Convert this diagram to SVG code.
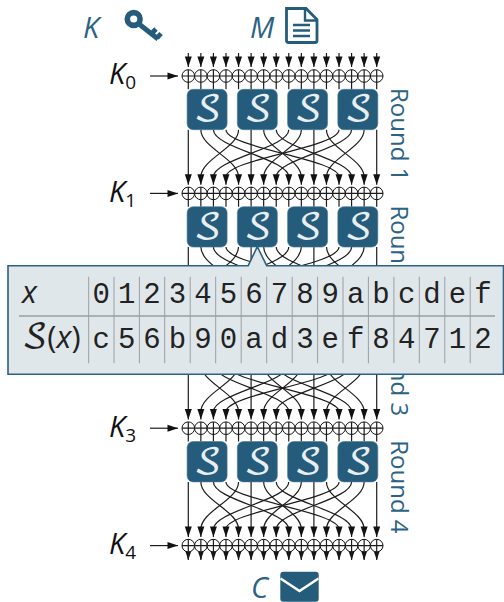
<svg xmlns="http://www.w3.org/2000/svg" width="504" height="602" viewBox="0 0 504 602">
<style>
.w{fill:none;stroke:#1c1c1c;stroke-width:1.2}
.a{marker-end:url(#ah)}
.x{fill:#fff;stroke:#111;stroke-width:1}
.box{fill:#255c7c;stroke:#4a7a96;stroke-width:.6}
.st{font-family:"DejaVu Math TeX Gyre","Liberation Serif",serif;font-size:36px;fill:#e8eef1;text-anchor:middle}
.lab{font-family:"Open Sans",sans-serif;font-style:italic;font-size:29px;fill:#2c6384}
.k{font-family:"Open Sans",sans-serif;font-style:italic;font-size:29px;fill:#111}
.sub{font-family:"Open Sans",sans-serif;font-style:normal;font-size:19px;fill:#111}
.rd{font-family:"Open Sans",sans-serif;font-size:24px;fill:#2c6384}
.d{font-family:"Liberation Mono",monospace;font-size:29px;fill:#222;text-anchor:middle}
.gv{stroke:#9a9ea2;stroke-width:1}
.m{font-family:"Open Sans",sans-serif;font-style:italic;font-size:31px;fill:#222}
</style>
<defs>
<marker id="ah" markerUnits="userSpaceOnUse" markerWidth="12" markerHeight="12" refX="3" refY="4" orient="auto" viewBox="-8 0 12 8"><path d="M-7.5,0.5L3,4L-7.5,7.5Z" fill="#111"/></marker>
<g id="perm" class="w">
<path class="a" d="M188.3,0V55"/>
<path class="a" d="M200.86,0C200.86,18 238.54,29.3 238.54,47.3V55"/>
<path class="a" d="M213.42,0C213.42,18 288.78,29.3 288.78,47.3V55"/>
<path class="a" d="M225.98,0C225.98,18 339.02,29.3 339.02,47.3V55"/>
<path class="a" d="M238.54,0C238.54,18 200.86,29.3 200.86,47.3V55"/>
<path class="a" d="M251.1,0V55"/>
<path class="a" d="M263.66,0C263.66,18 301.34,29.3 301.34,47.3V55"/>
<path class="a" d="M276.22,0C276.22,18 351.58,29.3 351.58,47.3V55"/>
<path class="a" d="M288.78,0C288.78,18 213.42,29.3 213.42,47.3V55"/>
<path class="a" d="M301.34,0C301.34,18 263.66,29.3 263.66,47.3V55"/>
<path class="a" d="M313.9,0V55"/>
<path class="a" d="M326.46,0C326.46,18 364.14,29.3 364.14,47.3V55"/>
<path class="a" d="M339.02,0C339.02,18 225.98,29.3 225.98,47.3V55"/>
<path class="a" d="M351.58,0C351.58,18 276.22,29.3 276.22,47.3V55"/>
<path class="a" d="M364.14,0C364.14,18 326.46,29.3 326.46,47.3V55"/>
<path class="a" d="M376.7,0V55"/>
</g>
<g id="arr" class="w">
<path class="a" d="M188.3,0V14"/><path class="a" d="M200.86,0V14"/><path class="a" d="M213.42,0V14"/><path class="a" d="M225.98,0V14"/><path class="a" d="M238.54,0V14"/><path class="a" d="M251.1,0V14"/><path class="a" d="M263.66,0V14"/><path class="a" d="M276.22,0V14"/><path class="a" d="M288.78,0V14"/><path class="a" d="M301.34,0V14"/><path class="a" d="M313.9,0V14"/><path class="a" d="M326.46,0V14"/><path class="a" d="M339.02,0V14"/><path class="a" d="M351.58,0V14"/><path class="a" d="M364.14,0V14"/><path class="a" d="M376.7,0V14"/>
</g>
<g id="xc"><circle class="x" cx="188.3" r="6.3"/><path class="w" d="M188.3,-6.3V13.3M182,0H194.6"/></g>
<g id="xor">
<use href="#xc"/><use href="#xc" x="12.56"/><use href="#xc" x="25.12"/><use href="#xc" x="37.68"/><use href="#xc" x="50.24"/><use href="#xc" x="62.8"/><use href="#xc" x="75.36"/><use href="#xc" x="87.92"/><use href="#xc" x="100.48"/><use href="#xc" x="113.04"/><use href="#xc" x="125.6"/><use href="#xc" x="138.16"/><use href="#xc" x="150.72"/><use href="#xc" x="163.28"/><use href="#xc" x="175.84"/><use href="#xc" x="188.4"/>
</g>
<g id="sb"><rect class="box" x="187.1" y="0" width="40" height="40.4" rx="6"/><text class="st" x="207.5" y="32">𝒮</text></g>
</defs>
<g id="connectors">
<use href="#arr" y="53"/>
<use href="#perm" y="129.7"/><use href="#perm" y="247.1"/><use href="#perm" y="364.5"/><use href="#perm" y="481.9"/>
<use href="#arr" y="546"/>
<path class="w a" d="M150,76H178"/><path class="w a" d="M150,193.4H178"/><path class="w a" d="M150,428.2H178"/><path class="w a" d="M150,545.6H178"/>
</g>
<g id="xor-rows"><use href="#xor" y="76"/><use href="#xor" y="193.4"/><use href="#xor" y="310.8"/><use href="#xor" y="428.2"/><use href="#xor" y="545.6"/></g>
<g id="sboxes">
<g id="s0"><use href="#sb" y="89.3"/><use href="#sb" x="50.24" y="89.3"/><use href="#sb" x="100.48" y="89.3"/><use href="#sb" x="150.72" y="89.3"/></g>
<g id="s1"><use href="#sb" y="206.7"/><use href="#sb" x="50.24" y="206.7"/><use href="#sb" x="100.48" y="206.7"/><use href="#sb" x="150.72" y="206.7"/></g>
<g id="s3"><use href="#sb" y="441.5"/><use href="#sb" x="50.24" y="441.5"/><use href="#sb" x="100.48" y="441.5"/><use href="#sb" x="150.72" y="441.5"/></g>
</g>
<g id="labels">
<text class="lab" x="83" y="38">K</text><text class="lab" x="250" y="38">M</text><text class="lab" x="251" y="598">C</text>
<text class="k" x="109" y="84">K<tspan class="sub" dy="5">0</tspan></text>
<text class="k" x="109" y="202">K<tspan class="sub" dy="5">1</tspan></text>
<text class="k" x="109" y="437">K<tspan class="sub" dy="5">3</tspan></text>
<text class="k" x="109" y="554">K<tspan class="sub" dy="5">4</tspan></text>
<text class="rd" transform="translate(391,88) rotate(90)">Round 1</text>
<text class="rd" transform="translate(391,205.4) rotate(90)">Round 2</text>
<text class="rd" transform="translate(391,322.8) rotate(90)">Round 3</text>
<text class="rd" transform="translate(391,440.2) rotate(90)">Round 4</text>
</g>
<g id="key-icon" fill="none" stroke="#255c7c"><circle cx="133.7" cy="19" r="6.4" stroke-width="5.6"/><path d="M139,24L158,39M151.5,33.5L156,29M157,38L161,33.5" stroke-width="4.8"/></g>
<g id="doc-icon"><path d="M286.5,8.5H306L317,19.5V40.5Q317,42.5 315,42.5H288.5Q286.5,42.5 286.5,40.5Z" fill="#fff" stroke="#255c7c" stroke-width="2.8"/><path d="M305,8.5V20.5H317" fill="none" stroke="#255c7c" stroke-width="2.4"/><path d="M293,25H310M293,30.5H310M293,36H310" stroke="#255c7c" stroke-width="2.6"/></g>
<g id="mail-icon"><rect x="280.3" y="571.7" width="38.4" height="30" rx="3" fill="#255c7c"/><path d="M280.5,578.5L299.5,591L318.5,578.5" fill="none" stroke="#fff" stroke-width="2.6"/></g>
<g id="sbox-popup">
<path d="M8,265.7H248.2L257.3,246.7L266.7,265.7H503.5V374.3H8Z" fill="#e0e7eb" stroke="#2a6283" stroke-width="1.6"/>
<path d="M19,316H495" stroke="#9a9ea2" stroke-width="1.4"/>
<path class="gv" d="M88.7,276.7V363.3M114,276.7V363.3M139.4,276.7V363.3M164.7,276.7V363.3M190.2,276.7V363.3M215.7,276.7V363.3M241.2,276.7V363.3M266.7,276.7V363.3M292.2,276.7V363.3M317.6,276.7V363.3M343,276.7V363.3M368.4,276.7V363.3M393.9,276.7V363.3M419.3,276.7V363.3M444.8,276.7V363.3M470.2,276.7V363.3"/>
<text class="m" x="22" y="303">x</text>
<text class="m" x="22" y="348"><tspan font-family="DejaVu Math TeX Gyre,Liberation Serif" font-style="normal" font-size="33">𝒮</tspan><tspan font-style="normal">(</tspan>x<tspan font-style="normal">)</tspan></text>
<g class="d">
<text x="101.3" y="303">0</text><text x="126.7" y="303">1</text><text x="152" y="303">2</text><text x="177.5" y="303">3</text><text x="203" y="303">4</text><text x="228.5" y="303">5</text><text x="254" y="303">6</text><text x="279.5" y="303">7</text><text x="305" y="303">8</text><text x="330.3" y="303">9</text><text x="355.7" y="303">a</text><text x="381" y="303">b</text><text x="406.7" y="303">c</text><text x="432" y="303">d</text><text x="457.5" y="303">e</text><text x="483" y="303">f</text>
<text x="101.3" y="348">c</text><text x="126.7" y="348">5</text><text x="152" y="348">6</text><text x="177.5" y="348">b</text><text x="203" y="348">9</text><text x="228.5" y="348">0</text><text x="254" y="348">a</text><text x="279.5" y="348">d</text><text x="305" y="348">3</text><text x="330.3" y="348">e</text><text x="355.7" y="348">f</text><text x="381" y="348">8</text><text x="406.7" y="348">4</text><text x="432" y="348">7</text><text x="457.5" y="348">1</text><text x="483" y="348">2</text>
</g>
</g>
</svg>
